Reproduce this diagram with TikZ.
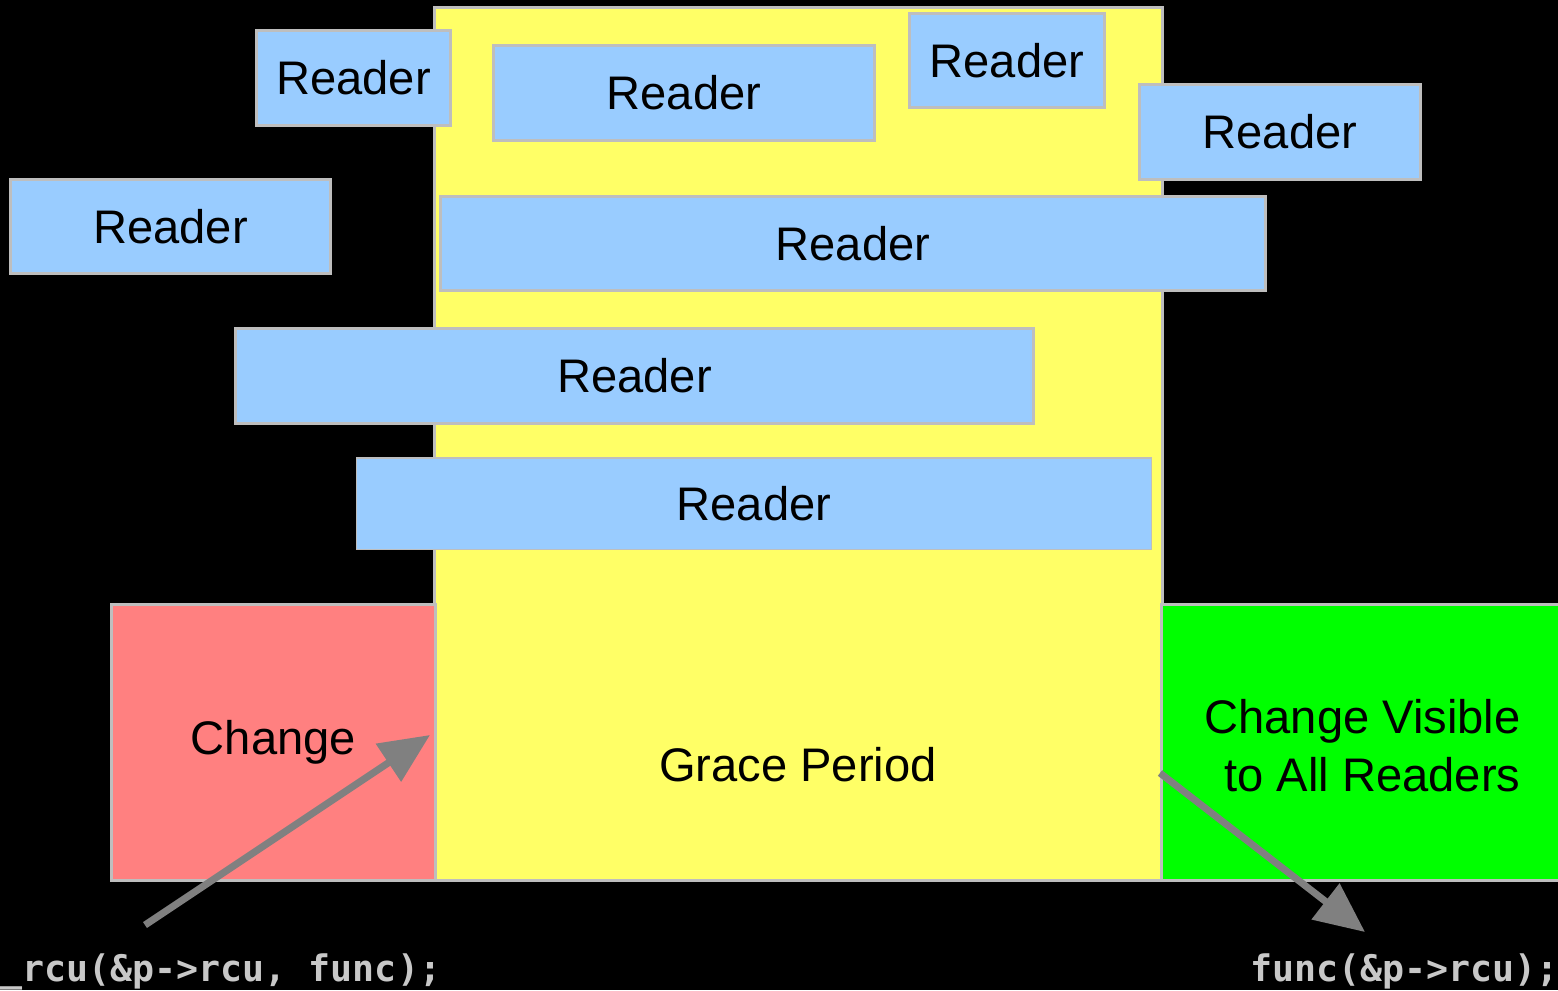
\documentclass[tikz,border=0pt]{standalone}
\usepackage{fontspec}
\setmainfont{Liberation Sans}
\newfontfamily\codefont{DejaVu Sans Mono}
\usetikzlibrary{arrows.meta}

\definecolor{readerblue}{RGB}{153,204,255}
\definecolor{graceyellow}{RGB}{255,255,102}
\definecolor{changered}{RGB}{255,128,128}
\definecolor{visiblegreen}{RGB}{0,255,0}
\definecolor{edgegray}{RGB}{190,190,190}
\definecolor{arrowgray}{RGB}{128,128,128}
\definecolor{codegray}{RGB}{200,200,200}

\begin{document}
\begin{tikzpicture}[x=0.01cm, y=-0.01cm,
		box/.style={
			draw=edgegray,
			line width=0.85pt,
			inner sep=0pt,
			font=\fontsize{13.4pt}{16.5pt}\selectfont
		},
		reader/.style={
			box,
			fill=readerblue,
			minimum height=0.94cm
		},
		code/.style={
			inner sep=0pt,
			text=codegray,
			font=\codefont\bfseries\fontsize{10.4pt}{12pt}\selectfont
		},
		line/.style={
			draw=arrowgray,
			line width=2pt,
			-{Triangle[length=0.5cm, width=0.44cm]}
		}
		]
		
		% Background
		\fill[black] (0,0) rectangle (1558,990);
		\useasboundingbox (0,0) rectangle (1558,990);
		
		% Grace period and its neighbours
		\node[box, fill=graceyellow, minimum width=7.27cm, minimum height=8.72cm] (grace) at (798.5,444) {};
		\node[box, fill=changered, minimum width=3.23cm, minimum height=2.75cm] (change) at (273.5,742.5) {Change};
		\node[box, fill=visiblegreen, minimum width=4.08cm, minimum height=2.75cm] (visible) at (1366,742.5) {};
		\node[box, draw=none, align=right, anchor=east] (visibletext) at (1522,746) {Change Visible\\to All Readers};
		\node[box, draw=none] (gracetext) at (798,765) {Grace Period};
		
		% Readers
		\node[reader, minimum width=1.93cm] (r1) at (353.5,78) {Reader};
		\node[reader, minimum width=3.80cm] (r2) at (684,93) {Reader};
		\node[reader, minimum width=1.94cm, minimum height=0.93cm] (r3) at (1007,60.5) {Reader};
		\node[reader, minimum width=2.80cm] (r4) at (1280,132) {Reader};
		\node[reader, minimum width=3.19cm, minimum height=0.93cm] (r5) at (170.5,226.5) {Reader};
		\node[reader, minimum width=8.24cm, minimum height=0.93cm] (r6) at (853,243.5) {Reader};
		\node[reader, minimum width=7.97cm] (r7) at (634.5,376) {Reader};
		\node[reader, line width=0.3pt, minimum width=7.94cm, minimum height=0.91cm] (r8) at (754,503.5) {Reader};
		
		% Code
		\node[code, anchor=base west] (callrcu) at (0,981) {\_rcu(\&p->rcu, func);};
		\node[code, anchor=base west] (cbfunc) at (1250,981) {func(\&p->rcu);};
		
		% Arrows
		\coordinate (calltail) at (145,925);
		\coordinate (calltip) at (430,735);
		\coordinate (functail) at (1160,773);
		\coordinate (functip) at (1365,932);
		\draw[line] (calltail) -- (calltip);
		\draw[line] (functail) -- (functip);
		
	\end{tikzpicture}
\end{document}
